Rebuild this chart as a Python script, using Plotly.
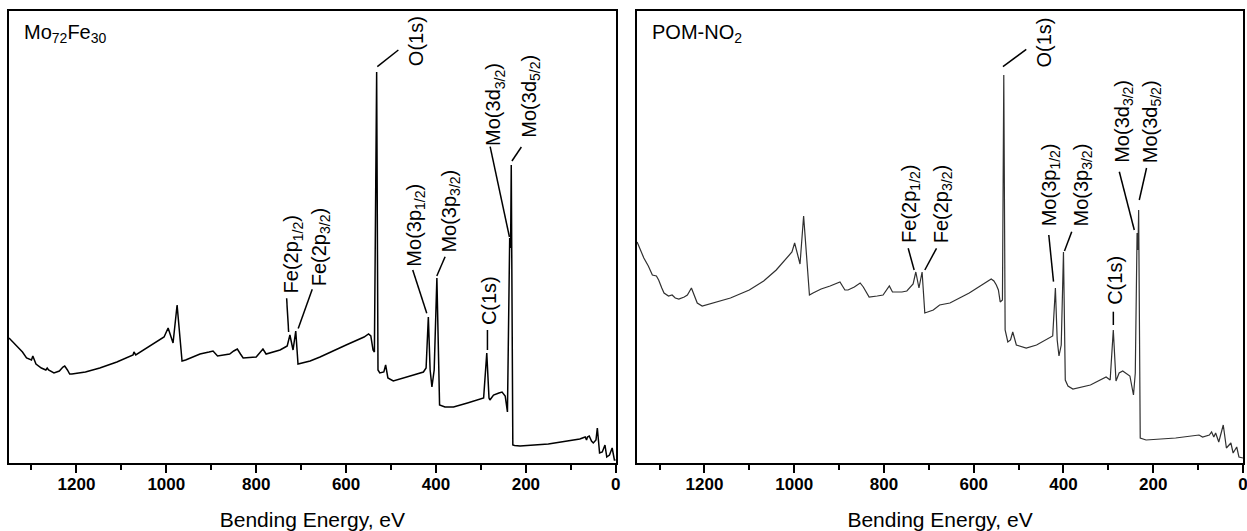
import plotly.graph_objects as go

# ---------------- data ----------------
# Binding energy (eV) and intensity (a.u.) for sample Mo72Fe30
E_mofe = [1350, 1335, 1320, 1311, 1300, 1297, 1290, 1278, 1268, 1265, 1262, 1250, 1238, 1230, 1226,
          1220, 1215, 1210, 1180, 1148, 1110, 1074, 1072, 1068, 1040, 1015, 1005, 996, 985, 976,
          965, 957, 940, 925, 905, 896, 886, 870, 859, 850, 842, 835, 829, 800, 790, 785, 778,
          760, 747, 735, 731, 725, 718, 712, 707, 680, 658, 600, 560, 550, 545, 540, 537, 532,
          529, 525, 516, 512, 507, 495, 470, 450, 428, 422, 417, 413, 409, 404, 398, 394, 392,
          380, 361, 330, 300, 294, 287, 282, 280, 272, 260, 253, 246, 241, 236, 234, 232.5, 229,
          225, 213, 150, 94, 80, 68, 65, 63, 59, 54, 50, 44, 41, 36, 30, 24, 20, 14, 8, 3, 0]
I_mofe = [125, 118, 111, 105, 103, 107, 99, 95, 93, 95, 93, 90, 92, 96, 97,
          93, 89, 89, 91, 95, 101, 108, 111, 108, 116, 123, 126, 135, 120, 158,
          102, 103, 106, 109, 111, 112, 107, 108, 109, 112, 114, 109, 105, 106, 111, 114, 109,
          111, 113, 116, 117, 128, 113, 132, 99, 102, 106, 118, 126, 129, 127, 113, 111, 391,
          93, 90, 91, 98, 85, 82, 85, 88, 91, 95, 146, 93, 76, 93, 185, 68, 58,
          56, 56, 60, 64, 65, 110, 65, 63, 68, 70, 71, 67, 51, 225, 215, 298, 18,
          17.5, 17, 19, 23, 24, 26, 23, 26, 27, 22, 20, 23, 35, 10, 11, 18, 6, 8, 15, 3, 3]

# Binding energy (eV) and intensity (a.u.) for sample POM-NO2
E_pom = [1350, 1345, 1335, 1325, 1316, 1307, 1302, 1295, 1290, 1280, 1272, 1265, 1257, 1245, 1238,
         1229, 1216, 1205, 1180, 1142, 1100, 1068, 1040, 1013, 1005, 999, 994, 987, 979, 972,
         966, 958, 940, 920, 905, 898, 887, 880, 866, 853, 846, 833, 815, 802, 788, 781, 760,
         749, 735, 729, 722, 715, 709, 690, 676, 653, 610, 561, 555, 549.6, 545, 541, 536, 533,
         530, 524, 518, 513, 505, 483, 460, 431, 424, 418, 414, 410, 405, 400, 396, 390, 379,
         340, 305, 296, 289, 283, 276, 268, 261, 252, 244, 240, 236, 234, 232.5, 229, 216, 150,
         98, 90, 75, 70, 65, 61, 54, 44, 37, 32, 27, 22, 14, 9, 4, 0]
I_pom = [221, 215, 205, 197, 188, 187, 183, 175, 170, 167, 168, 165, 164, 166, 168,
         175, 160, 157, 160, 165, 173, 182, 193, 207, 211, 220, 210, 199, 247, 203,
         168, 170, 174, 177, 180, 181, 173, 173, 176, 180, 176, 166, 167, 168, 177, 171, 171,
         172, 179, 191, 175, 191, 150, 153, 158, 160, 170, 184, 182, 178, 173, 161, 163, 388,
         133, 121, 123, 131, 118, 115, 118, 125, 127, 175, 123, 107, 118, 211, 83, 77, 74,
         78, 86, 83, 133, 82, 90, 92, 90, 87, 68, 90, 230, 213, 253, 25, 23, 25,
         28, 26, 28, 31, 26, 30, 21, 38, 15, 17, 20, 10, 16, 6, 5, 5]

# x axis ticks
major_ticks = [1200, 1000, 800, 600, 400, 200, 0]
tick_labels = ["1200", "1000", "800", "600", "400", "200", "0"]

# sample names
sample_names = ["Mo<sub>72</sub>Fe<sub>30</sub>", "POM-NO<sub>2</sub>"]

# peak labels
peak_texts = ["O(1s)", "Mo(3d<sub>3/2</sub>)", "Mo(3d<sub>5/2</sub>)", "Mo(3p<sub>1/2</sub>)",
              "Mo(3p<sub>3/2</sub>)", "C(1s)", "Fe(2p<sub>1/2</sub>)", "Fe(2p<sub>3/2</sub>)"]

# ---------------- label placement (layout) ----------------
# (label x, label bottom y, leader x0, y0, x1, y1) in data units
left_labels = [
    (444.8, 394.7, 530.5, 396.3, 483.7, 413.0),
    (268.4, 314.7, 279.5, 316.3, 236.5, 226.0),
    (190.4, 323.0, 231.0, 302.0, 210.0, 316.0),
    (444.8, 194.7, 420.5, 149.7, 451.7, 193.0),
    (368.6, 208.0, 398.2, 187.0, 379.7, 206.3),
    (282.9, 136.0, 285.5, 113.0, 285.5, 133.0),
    (719.4, 168.0, 727.8, 131.0, 732.3, 164.7),
    (658.1, 174.7, 706.5, 134.5, 675.3, 173.7),
]
right_labels = [
    (444.4, 393.0, 534.9, 396.3, 482.9, 413.7),
    (266.7, 298.0, 242.2, 233.0, 275.6, 291.3),
    (203.3, 298.0, 231.1, 263.0, 214.9, 295.0),
    (428.9, 234.7, 422.2, 181.3, 432.7, 228.0),
    (357.1, 234.7, 397.8, 212.0, 381.6, 231.3),
    (286.7, 156.0, 288.9, 138.0, 288.9, 151.3),
    (742.2, 218.0, 732.7, 193.0, 746.0, 214.7),
    (670.0, 218.0, 708.9, 193.0, 682.9, 214.7),
]

FONT = "Liberation Sans, Arial, sans-serif"

fig = go.Figure()
fig.add_trace(go.Scatter(x=E_mofe, y=I_mofe, mode="lines", xaxis="x", yaxis="y",
                         line=dict(color="#000000", width=1.5), showlegend=False,
                         hoverinfo="skip"))
fig.add_trace(go.Scatter(x=E_pom, y=I_pom, mode="lines", xaxis="x2", yaxis="y2",
                         line=dict(color="#303030", width=1.2), showlegend=False,
                         hoverinfo="skip"))

axis_common = dict(
    range=[1350, 0], showline=True, mirror=True, linecolor="black", linewidth=2,
    ticks="outside", ticklen=8, tickwidth=1.5, tickcolor="black",
    tickmode="array", tickvals=major_ticks, ticktext=tick_labels,
    tickfont=dict(family=FONT, size=17, color="black", weight="bold"),
    ticklabeloverflow="allow", ticklabelstandoff=-3,
    minor=dict(tickmode="linear", tick0=100, dtick=200, ticks="outside", ticklen=5,
               tickwidth=1.5, tickcolor="black", showgrid=False),
    showgrid=False, zeroline=False, automargin=False,
    title=dict(text="Bending Energy, eV", font=dict(family=FONT, size=21, color="black"),
               standoff=20),
)
yaxis_common = dict(range=[0, 452], showline=True, mirror=True, linecolor="black", linewidth=2,
                    showticklabels=False, ticks="", showgrid=False, zeroline=False,
                    automargin=False)

fig.update_layout(
    width=1247, height=531,
    margin=dict(l=9, r=4, t=11, b=68, autoexpand=False),
    paper_bgcolor="white", plot_bgcolor="white",
    xaxis=dict(domain=[0, 0.4917], anchor="y", **axis_common),
    yaxis=dict(domain=[0, 1], anchor="x", **yaxis_common),
    xaxis2=dict(domain=[0.509, 1.0], anchor="y2", **axis_common),
    yaxis2=dict(domain=[0, 1], anchor="x2", **yaxis_common),
    font=dict(family=FONT, color="black"),
)

annotations = []
shapes = []
for (xr, yr, labels, name) in (("x", "y", left_labels, sample_names[0]),
                               ("x2", "y2", right_labels, sample_names[1])):
    annotations.append(dict(text=name, xref=xr + " domain", yref=yr + " domain",
                            x=0.022, y=0.95, xanchor="left", yanchor="middle",
                            showarrow=False, font=dict(family=FONT, size=20, color="black")))
    for txt, (lx, ly, x0, y0, x1, y1) in zip(peak_texts, labels):
        annotations.append(dict(text=txt, xref=xr, yref=yr, x=lx, y=ly,
                                xanchor="center", yanchor="bottom", textangle=-90,
                                showarrow=False,
                                font=dict(family=FONT, size=20, color="black")))
        shapes.append(dict(type="line", xref=xr, yref=yr, x0=x0, y0=y0, x1=x1, y1=y1,
                           line=dict(color="black", width=1.5)))

fig.update_layout(annotations=annotations, shapes=shapes)
fig.write_html("out.html", config={"displayModeBar": False},
               post_script="document.body.style.margin='0';document.body.style.overflow='hidden';")
